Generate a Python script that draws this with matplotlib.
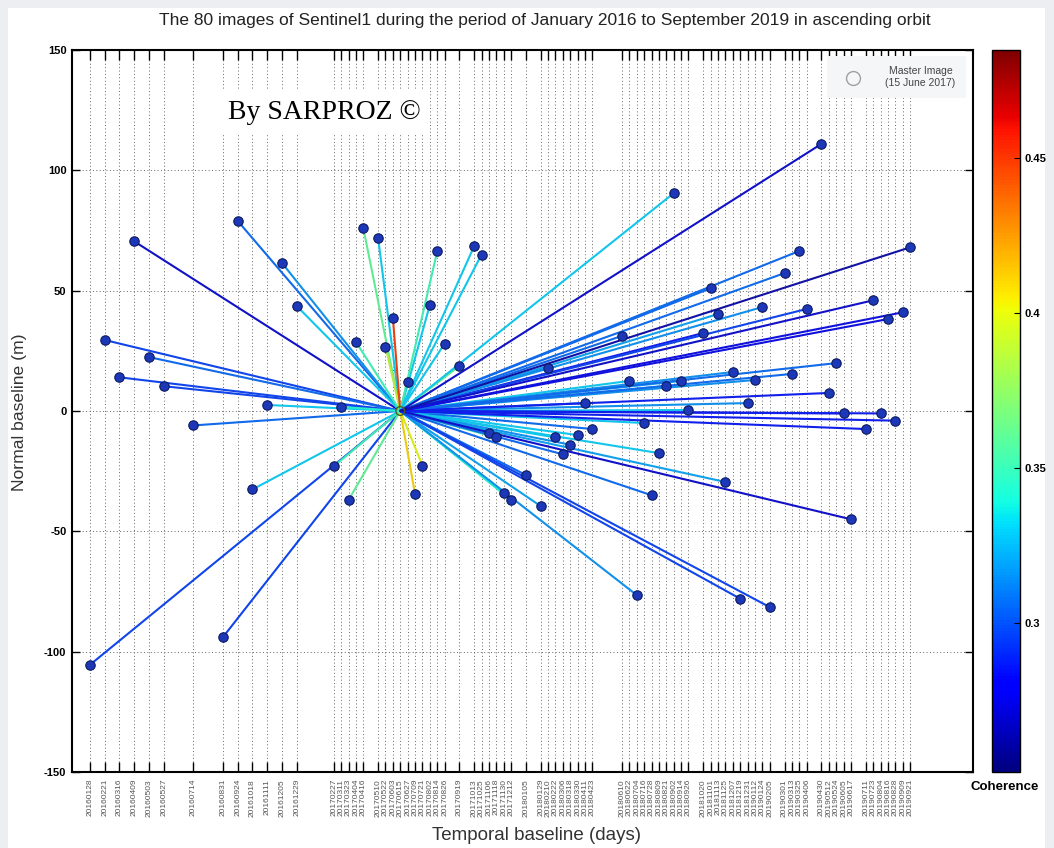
#!/usr/bin/env python

import datetime as dt

import matplotlib
matplotlib.use("Agg")
import matplotlib.dates as mdates
import matplotlib.pyplot as plt
import numpy as np
from matplotlib import colors
from matplotlib.cm import ScalarMappable
from matplotlib.lines import Line2D
from matplotlib.patches import Rectangle

TITLE = ("The 80 images of Sentinel1 during the period of January 2016 "
         "to September 2019 in ascending orbit")
MASTER_DATE = "20170615"

# acquisition dates (Sentinel-1, 12-day repeat)
acq_dates = [
    "20160128", "20160221", "20160316", "20160409", "20160503", "20160527",
    "20160714", "20160831", "20160924", "20161018", "20161111", "20161205",
    "20161229",
    "20170227", "20170311", "20170323", "20170404", "20170416",
    "20170510", "20170522", "20170603", "20170615", "20170627", "20170709",
    "20170721", "20170802", "20170814", "20170826",
    "20170919",
    "20171013", "20171025", "20171106", "20171118", "20171130", "20171212",
    "20180105",
    "20180129", "20180210", "20180222", "20180306", "20180318", "20180330",
    "20180411", "20180423",
    "20180610", "20180622", "20180704", "20180716", "20180728", "20180809",
    "20180821", "20180902", "20180914", "20180926",
    "20181020", "20181101", "20181113", "20181125", "20181207", "20181219",
    "20181231", "20190112", "20190124", "20190205",
    "20190301", "20190313", "20190325", "20190406",
    "20190430", "20190512", "20190524", "20190605", "20190617",
    "20190711", "20190723", "20190804", "20190816", "20190828", "20190909",
    "20190921",
]

# perpendicular baseline w.r.t. the master (m)
normal_baseline = [
    -105.5, 29.5, 14.0, 70.5, 22.4, 10.3,
    -6.0, -94.0, 79.0, -32.6, 2.5, 61.5,
    43.6,
    -23.0, 1.7, -37.0, 28.7, 76.0,
    72.0, 26.8, 38.8, 0.0, 12.0, -34.5,
    -22.7, 44.0, 66.3, 28.0,
    18.7,
    68.5, 65.0, -9.3, -11.0, -34.0, -37.0,
    -26.6,
    -39.5, 18.0, -11.0, -18.0, -14.0, -10.0,
    3.3, -7.5,
    31.2, 12.5, -76.5, -5.0, -35.0, -17.5,
    10.4, 90.5, 12.5, 0.4,
    32.4, 51.0, 40.3, -29.5, 16.2, -78.0,
    3.3, 12.9, 43.2, -81.5,
    57.3, 15.4, 66.5, 42.4,
    111.0, 7.5, 19.9, -1.0, -45.0,
    -7.5, 46.0, -1.0, 38.2, -4.0, 41.0,
    68.0,
]

# interferometric coherence of each pair with the master (nan for master)
coherence = [
    0.295, 0.295, 0.295, 0.27, 0.305, 0.295,
    0.305, 0.295, 0.305, 0.33, 0.33, 0.315,
    0.33,
    0.35, 0.34, 0.36, 0.35, 0.36,
    0.33, 0.39, 0.45, np.nan, 0.44, 0.41,
    0.40, 0.33, 0.35, 0.33,
    0.36,
    0.33, 0.33, 0.35, 0.35, 0.34, 0.34,
    0.305,
    0.32, 0.305, 0.33, 0.305, 0.315, 0.33,
    0.305, 0.305,
    0.305, 0.33, 0.315, 0.33, 0.305, 0.33,
    0.32, 0.33, 0.32, 0.33,
    0.285, 0.305, 0.32, 0.32, 0.315, 0.295,
    0.315, 0.315, 0.315, 0.295,
    0.305, 0.305, 0.305, 0.295,
    0.27, 0.285, 0.305, 0.285, 0.27,
    0.285, 0.27, 0.285, 0.275, 0.285, 0.275,
    0.262,
]

y_ticks = [-150, -100, -50, 0, 50, 100, 150]
cbar_ticks = [0.3, 0.35, 0.4, 0.45]
cbar_labels = ["0.3", "0.35", "0.4", "0.45"]


def to_num(s: str) -> float:
    return mdates.date2num(dt.datetime.strptime(s, "%Y%m%d"))


def soften(rgba, amount=0.15, grey=0.45):
    # pull the pure jet colours slightly towards grey
    r, g, b, a = rgba
    return tuple(v * (1 - amount) + grey * amount for v in (r, g, b)) + (a,)


def main():

    plt.rcParams["font.family"] = ["Liberation Sans", "DejaVu Sans"]

    W, H = 1054, 848
    fig = plt.figure(figsize=(W / 100, H / 100), dpi=100, facecolor="#eceef1")
    fig.patches.append(Rectangle((8 / W, 0), 1037 / W, 840 / H,
                                 transform=fig.transFigure, facecolor="white",
                                 edgecolor="none", zorder=-10))

    ax = fig.add_axes([72 / W, 76 / H, 901 / W, 722 / H])
    cax = fig.add_axes([992 / W, 76 / H, 28 / W, 722 / H])

    cmap = plt.get_cmap("jet")
    norm = colors.Normalize(vmin=0.252, vmax=0.485)

    x = np.array([to_num(d) for d in acq_dates])
    b = np.array(normal_baseline)
    c = np.array(coherence)
    xm = to_num(MASTER_DATE)
    slave = x != xm

    # one line per interferogram, from the master out to each slave image
    for xi, bi, ci in zip(x[slave], b[slave], c[slave]):
        ax.plot([xm, xi], [0, bi], color=soften(cmap(norm(ci))), lw=1.5,
                solid_capstyle="round", zorder=2)

    ax.scatter(x[slave], b[slave], s=46, facecolor="#1c38b8",
               edgecolor="#0b1a60", linewidth=0.8, zorder=3)
    ax.scatter([xm], [0], s=40, facecolor="none", edgecolor="#4d5d1e",
               linewidth=1.0, zorder=4)

    ax.set_xlim(to_num("20151230"), to_num("20200101"))
    ax.set_ylim(-150, 150)
    ax.set_xticks(x)
    ax.set_xticklabels(acq_dates, rotation=90, fontsize=6, color="#555555")
    ax.set_yticks(y_ticks)
    ax.set_yticklabels([str(v) for v in y_ticks], fontsize=8, fontweight="bold")
    ax.tick_params(axis="x", direction="in", length=7, width=1.0,
                   top=True, bottom=True, pad=5)
    ax.tick_params(axis="y", direction="in", length=6, width=1.0,
                   left=True, right=True, pad=4)
    ax.grid(True, linestyle=(0, (1, 2.5)), linewidth=0.7, color="#666666")
    ax.set_axisbelow(True)
    for spine in ax.spines.values():
        spine.set_linewidth(1.5)

    legend_handle = Line2D([], [], marker="o", linestyle="", markersize=10,
                           markerfacecolor="none", markeredgecolor="#a0a0a0")
    leg = ax.legend([legend_handle], ["Master Image\n(15 June 2017)"],
                    loc="upper right", bbox_to_anchor=(0.998, 0.999),
                    fontsize=7.5, frameon=True, facecolor="#f5f6f8",
                    edgecolor="none", framealpha=1.0, handletextpad=1.6,
                    handlelength=3.0, borderpad=1.0, fancybox=False)
    for t in leg.get_texts():
        t.set_color("#444444")
        t.set_multialignment("center")

    ax.text(0.173, 0.914, "By SARPROZ \u00a9", transform=ax.transAxes,
            fontsize=20, family="Liberation Serif", va="center", ha="left",
            bbox=dict(facecolor="white", edgecolor="none", pad=7), zorder=5)

    cb = fig.colorbar(ScalarMappable(norm=norm, cmap=cmap), cax=cax,
                      ticks=cbar_ticks)
    cb.set_ticklabels(cbar_labels)
    cb.outline.set_linewidth(1.0)
    cax.tick_params(direction="in", length=4, labelsize=8, pad=3)
    for t in cax.get_yticklabels():
        t.set_fontweight("bold")

    fig.text(545 / W, 1 - 20 / H, TITLE, ha="center", va="center",
             fontsize=12.5, color="#222222")
    fig.text(536 / W, 1 - 836 / H, "Temporal baseline (days)", ha="center",
             va="center", fontsize=13.5, color="#333333")
    fig.text(20 / W, 1 - 412 / H, "Normal baseline (m)", ha="center",
             va="center", rotation=90, fontsize=12.6, color="#333333")
    fig.text(1005 / W, 1 - 787 / H, "Coherence", ha="center", va="center",
             fontsize=9.5, fontweight="bold")

    fig.savefig("out.png", dpi=100, facecolor=fig.get_facecolor())


if __name__ == "__main__":
    main()
